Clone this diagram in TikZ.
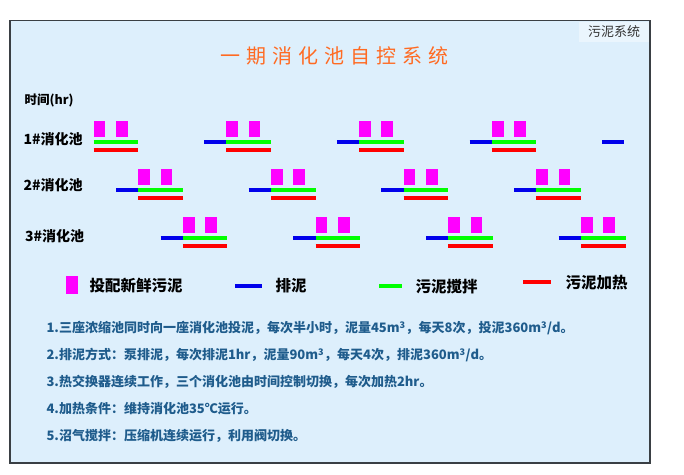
\documentclass[tikz,border=0pt]{standalone}
\usepackage{fontspec}
\setmainfont{Noto Sans CJK SC}
\newfontfamily\titlefont[LetterSpace=30]{Noto Sans CJK SC}
\usepackage{xcolor}
\definecolor{panelblue}{HTML}{DDEFFC}
\definecolor{tagblue}{HTML}{EAF5FD}
\definecolor{framegray}{HTML}{3A3F44}
\definecolor{titleorange}{HTML}{FF6A22}
\definecolor{notesblue}{HTML}{1F5C8C}
\definecolor{feedpink}{RGB}{255,0,255}
\definecolor{drainblue}{RGB}{0,0,235}
\definecolor{mixgreen}{RGB}{0,255,0}
\definecolor{heatred}{RGB}{255,0,0}

\begin{document}
\begin{tikzpicture}[x=1pt,y=-1pt,
    feedbar/.style={fill=feedpink},
    drainbar/.style={draw=drainblue, line width=4pt},
    mixbar/.style={draw=mixgreen, line width=4pt},
    heatbar/.style={draw=heatred, line width=4pt},
    rowlabel/.style={anchor=west, font=\bfseries\fontsize{14}{16}\selectfont},
    legendtext/.style={anchor=west, font=\bfseries\fontsize{15.5}{18}\selectfont},
    note/.style={anchor=west, text=notesblue, font=\bfseries\fontsize{13}{15}\selectfont}]
    \useasboundingbox (0,0) rectangle (684,474);

    % Panel
    \draw[framegray, line width=1.5pt, fill=panelblue] (10,20.5) rectangle (650,463);
    \fill[tagblue] (579,21.5) rectangle (649,42);
    \node[text=black!80, font=\fontsize{13}{15}\selectfont] (tag) at (614,32) {污泥系统};
    \node[text=titleorange, font=\titlefont\fontsize{20}{24}\selectfont] (title) at (334,56) {一期消化池自控系统};

    % Time axis labels
    \node[rowlabel, font=\bfseries\fontsize{12.5}{15}\selectfont] (time) at (21,100) {时间(hr)};
    \node[rowlabel] (tank1) at (20,139) {1\#消化池};
    \node[rowlabel] (tank2) at (20,185.5) {2\#消化池};
    \node[rowlabel] (tank3) at (21.5,236.5) {3\#消化池};

    % Cycles: feed, drain, mix, heat
    \foreach \r in {0,1,2} {
      \foreach \k in {0,...,3} {
        \pgfmathsetmacro\gx{93.7+44.6*\r+132.7*\k}
        \pgfmathsetmacro\gy{120.5+48*\r}
        \fill[feedbar] (\gx,\gy) rectangle ++(11.7,16.5);
        \fill[feedbar] (\gx+22.3,\gy) rectangle ++(11.7,16.5);
        \draw[mixbar] (\gx,\gy+21.5) -- ++(44.5,0);
        \draw[heatbar] (\gx,\gy+29) -- ++(44.5,0);
        \ifnum\r\k>0
          \draw[drainbar] (\gx-22.3,\gy+21.5) -- (\gx,\gy+21.5);
        \fi
      }
    }
    \draw[drainbar] (602,142) -- (624.3,142);

    % Legend
    \fill[feedbar] (66,275.7) rectangle (77.7,294);
    \node[legendtext] (lfeed) at (86,286) {投配新鲜污泥};
    \draw[drainbar] (235,286) -- (262.3,286);
    \node[legendtext] (ldrain) at (272,286) {排泥};
    \draw[mixbar] (379,286) -- (402,286);
    \node[legendtext] (lmix) at (412,287) {污泥搅拌};
    \draw[heatbar] (523,282) -- (551,282);
    \node[legendtext] (lheat) at (562,283) {污泥加热};

    % Notes
    \node[note] (n1) at (43,328) {1.三座浓缩池同时向一座消化池投泥，每次半小时，泥量45m\textsuperscript{3}，每天8次，投泥360m\textsuperscript{3}/d。};
    \node[note] (n2) at (43,355) {2.排泥方式：泵排泥，每次排泥1hr，泥量90m\textsuperscript{3}，每天4次，排泥360m\textsuperscript{3}/d。};
    \node[note] (n3) at (43,382) {3.热交换器连续工作，三个消化池由时间控制切换，每次加热2hr。};
    \node[note] (n4) at (43,409) {4.加热条件：维持消化池35℃运行。};
    \node[note] (n5) at (43,436) {5.沼气搅拌：压缩机连续运行，利用阀切换。};
\end{tikzpicture}
\end{document}
